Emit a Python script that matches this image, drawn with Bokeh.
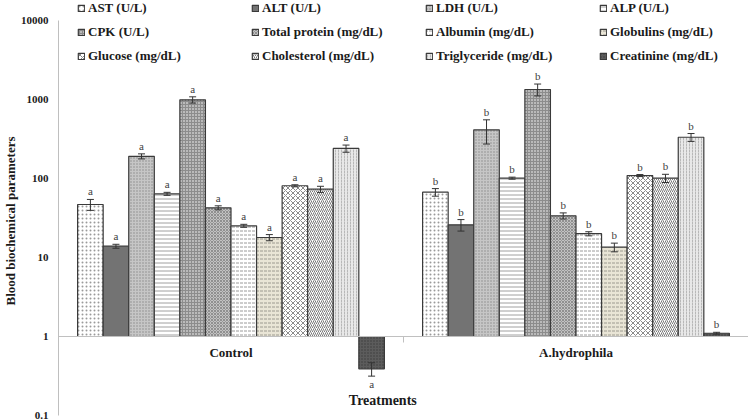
import numpy as np
from bokeh.plotting import figure
from bokeh.models import (ColumnDataSource, Range1d, FixedTicker, Span, Whisker,
                          TeeHead, Legend, LegendItem, Title)
from bokeh.core.properties import value
from bokeh.embed import file_html
from bokeh.resources import INLINE

# ---------------- data ----------------
treatments = ["Control", "A.hydrophila"]
parameters = ["AST (U/L)", "ALT (U/L)", "LDH (U/L)", "ALP (U/L)",
              "CPK (U/L)", "Total protein (mg/dL)", "Albumin (mg/dL)", "Globulins (mg/dL)",
              "Glucose (mg/dL)", "Cholesterol (mg/dL)", "Triglyceride (mg/dL)", "Creatinine (mg/dL)"]
control_mean = [46.9, 13.9, 191, 64, 991, 42.6, 25.2, 17.9, 80.9, 73.2, 240, 0.39]
control_err = [7.4, 0.8, 14, 2.8, 90, 2.5, 1.1, 1.6, 2.4, 6.5, 25, 0.075]
hydro_mean = [67.1, 25.9, 413, 101, 1339, 33.7, 20.0, 13.5, 109, 101, 333, 1.1]
hydro_err = [7.4, 4.3, 140, 3, 230, 3, 1.2, 1.7, 3.2, 12, 38, 0.03]
control_letter = "a"
hydro_letter = "b"
y_ticks = [0.1, 1, 10, 100, 1000, 10000]
y_tick_labels = ["0.1", "1", "10", "100", "1000", "10000"]

# ---------------- styles ----------------
fills = ["#ffffff", "#737373", "#c6c6c6", "#ffffff", "#bababa", "#c2c2c2",
         "#ffffff", "#e9e5d6", "#ffffff", "#ffffff", "#e8e8e8", "#5c5c5c"]
hatches = [".", None, ".", "-", "+", "x", '"', '"', "x", "/", ":", "."]
hatch_colors = ["#9a9a9a", "#737373", "#8a8a8a", "#a0a0a0", "#8c8c8c", "#909090",
                "#9a9a9a", "#9c9a90", "#8a8a8a", "#7a7a7a", "#b8b8b8", "#3c3c3c"]
hatch_scales = [4, 4, 3, 4, 3, 3, 4, 4, 5, 4, 3, 3]
SERIF = "Liberation Serif"

n_ser = len(parameters)
bar_w = 0.0741
centers = np.arange(len(treatments)) + 0.5
# extra headroom above the top tick (20 px at 79 px per decade) to host the legend
y_end = 10 ** (np.log10(y_ticks[-1]) + 20 / 79)

p = figure(width=748, height=420, output_backend="svg", toolbar_location=None,
           y_axis_type="log", x_range=Range1d(0, len(treatments)),
           y_range=Range1d(y_ticks[0], y_end),
           min_border_left=57, min_border_right=0, min_border_top=0, min_border_bottom=5)
p.outline_line_color = None
p.xgrid.visible = False
p.ygrid.visible = False
p.xaxis.visible = False

# baseline at 1
p.add_layout(Span(location=1, dimension="width", line_color="#c0c0c0", line_width=1))

means = np.array([control_mean, hydro_mean])  # shape (2, 12)
errs = np.array([control_err, hydro_err])
letters = [control_letter, hydro_letter]

items = []
wx, wu, wl = [], [], []
for i in range(n_ser):
    off = (i - (n_ser - 1) / 2) * bar_w
    xs = centers + off
    tops = means[:, i]
    src = ColumnDataSource(dict(x=xs, top=tops, bottom=[1] * len(xs)))
    kw = dict(fill_color=fills[i], line_color="#3a3a3a", line_width=1.2)
    if hatches[i] is not None:
        kw.update(hatch_pattern=hatches[i], hatch_color=hatch_colors[i],
                  hatch_scale=hatch_scales[i], hatch_weight=1)
    r = p.vbar(x="x", top="top", bottom="bottom", width=bar_w, source=src, **kw)
    items.append(LegendItem(label=parameters[i], renderers=[r]))
    wx.extend(xs)
    wu.extend(tops + errs[:, i])
    wl.extend(tops - errs[:, i])

wsrc = ColumnDataSource(dict(x=wx, upper=wu, lower=wl))
p.add_layout(Whisker(source=wsrc, base="x", upper="upper", lower="lower",
                     line_color="#333333", line_width=1, level="annotation",
                     upper_head=TeeHead(size=7, line_color="#333333", line_width=1),
                     lower_head=TeeHead(size=7, line_color="#333333", line_width=1)))

# significance letters
lx_up, ly_up, lt_up, lx_dn, ly_dn, lt_dn = [], [], [], [], [], []
for g in range(len(treatments)):
    for i in range(n_ser):
        x = centers[g] + (i - (n_ser - 1) / 2) * bar_w
        m, e = means[g, i], errs[g, i]
        if m >= 1:
            lx_up.append(x); ly_up.append(m + e); lt_up.append(letters[g])
        else:
            lx_dn.append(x); ly_dn.append(m - e); lt_dn.append(letters[g])
p.text(x=lx_up, y=ly_up, text=lt_up, text_align="center", text_baseline="bottom",
       y_offset=-2, text_font=value(SERIF), text_font_size=value("11px"), text_color="#404040")
p.text(x=lx_dn, y=ly_dn, text=lt_dn, text_align="center", text_baseline="top",
       y_offset=2, text_font=value(SERIF), text_font_size=value("11px"), text_color="#404040")

# category labels at the baseline
p.text(x=centers, y=[1] * len(centers), text=treatments, text_align="center",
       text_baseline="middle", y_offset=16, text_font=value(SERIF),
       text_font_size=value("13px"), text_font_style="bold", text_color="#1a1a1a")
# category boundary tick
p.segment(x0=[1], x1=[1], y0=[1], y1=[10 ** (-6 / 79)], line_color="#c0c0c0", line_width=1)

# x axis title
p.text(x=[0.94], y=[y_ticks[0]], text=["Treatments"], text_align="center", text_baseline="middle",
       y_offset=-15, text_font=value(SERIF), text_font_size=value("14px"),
       text_font_style="bold", text_color="#1a1a1a")

# y axis
ya = p.yaxis[0]
ya.ticker = FixedTicker(ticks=y_ticks)
ya.major_label_overrides = {t: l for t, l in zip(y_ticks, y_tick_labels)}
ya.bounds = (y_ticks[0], y_ticks[-1])
ya.axis_line_color = "#bfbfbf"
ya.major_tick_line_color = None
ya.minor_tick_line_color = None
ya.major_tick_out = 0
ya.major_tick_in = 0
ya.minor_tick_out = 0
ya.minor_tick_in = 0
ya.major_label_standoff = 10
ya.major_label_text_font = SERIF
ya.major_label_text_font_style = "bold"
ya.major_label_text_font_size = "11px"
ya.major_label_text_color = "#1a1a1a"

# y axis title, centred on the tick span (not on the taller frame)
p.add_layout(Title(text="Blood biochemical parameters", align="left", offset=110,
                   standoff=0, text_font=SERIF, text_font_style="bold",
                   text_font_size="13px", text_color="#1a1a1a"), "left")

legend = Legend(items=items, orientation="horizontal", ncols=4, location=(19, 351),
                glyph_width=8, glyph_height=8, label_standoff=3, label_width=155,
                label_height=14, spacing=8, padding=0, margin=0,
                border_line_color=None, background_fill_alpha=0,
                label_text_font=SERIF, label_text_font_style="bold",
                label_text_font_size="13px", label_text_color="#1a1a1a")
p.add_layout(legend)

open("out.html", "w").write(file_html(p, INLINE))
